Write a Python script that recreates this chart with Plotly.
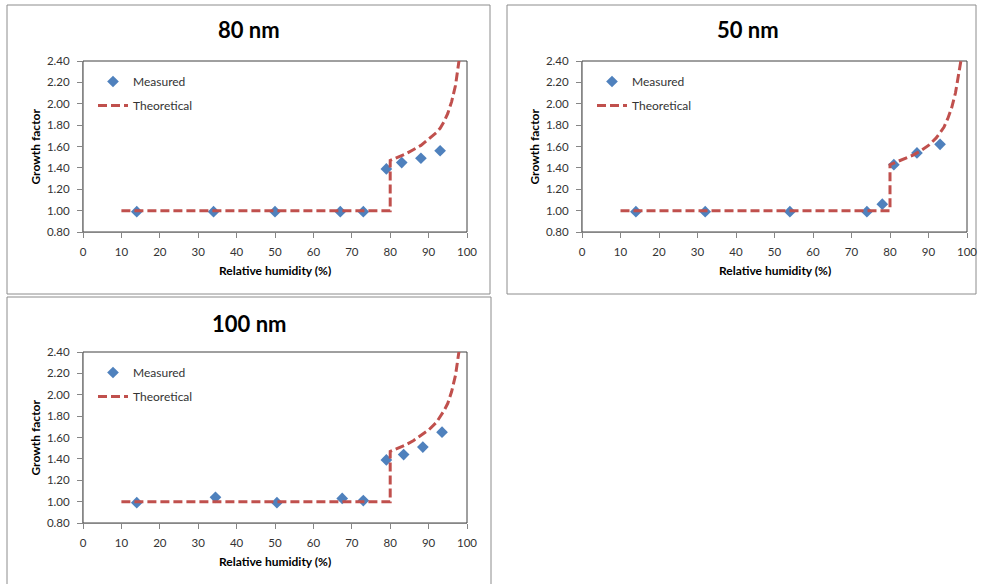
import plotly.graph_objects as go

W, H = 981, 584

# ---------------- data ----------------
titles = ["80 nm", "50 nm", "100 nm"]

meas_x_80 = [14, 34, 50, 67, 73, 79, 83, 88, 93]
meas_y_80 = [0.99, 0.99, 0.99, 0.99, 0.99, 1.39, 1.45, 1.49, 1.56]
theo_x_80 = [10, 80, 80, 82, 84, 86, 88, 90, 92, 93, 94, 95, 96, 97, 98, 98.5]
theo_y_80 = [1.00, 1.00, 1.47, 1.50, 1.53, 1.57, 1.61, 1.67, 1.73, 1.77, 1.83, 1.91, 2.02, 2.17, 2.39, 2.55]

meas_x_50 = [14, 32, 54, 74, 78, 81, 87, 93]
meas_y_50 = [0.99, 0.99, 0.99, 0.99, 1.06, 1.43, 1.54, 1.62]
theo_x_50 = [10, 80, 80, 82, 84, 86, 88, 90, 92, 93, 94, 95, 96, 97, 98, 98.5, 99]
theo_y_50 = [1.00, 1.00, 1.43, 1.46, 1.49, 1.52, 1.56, 1.61, 1.68, 1.73, 1.78, 1.86, 1.96, 2.10, 2.30, 2.42, 2.60]

meas_x_100 = [14, 34.5, 50.5, 67.5, 73, 79, 83.5, 88.5, 93.5]
meas_y_100 = [0.99, 1.04, 0.99, 1.03, 1.01, 1.39, 1.44, 1.51, 1.65]
theo_x_100 = [10, 80, 80, 82, 84, 86, 88, 90, 92, 93, 94, 95, 96, 97, 98, 98.5]
theo_y_100 = [1.00, 1.00, 1.47, 1.50, 1.53, 1.57, 1.62, 1.67, 1.74, 1.79, 1.85, 1.92, 2.03, 2.18, 2.39, 2.55]

x_range = [0, 100]
y_range = [0.8, 2.4]
x_title = "Relative humidity (%)"
y_title = "Growth factor"

panels = [
    (meas_x_80, meas_y_80, theo_x_80, theo_y_80),
    (meas_x_50, meas_y_50, theo_x_50, theo_y_50),
    (meas_x_100, meas_y_100, theo_x_100, theo_y_100),
]

# ---------------- layout (pixels) ----------------
areas = [(83, 61, 467, 232), (582, 61, 967, 232), (83, 352, 467, 523)]
boxes = [(7, 5, 490, 294), (507, 5, 976, 294), (7, 297, 491, 600)]
title_pos = [(249, 30), (748, 30), (249, 323)]

def px(x):
    return x / W

def py(y):
    return 1 - y / H

FONT = "Lato"
BLUE = "#4F81BD"
RED = "#C0504D"
TXT = "#333333"

fig = go.Figure()
layout = dict(
    template="none",
    width=W, height=H,
    margin=dict(l=0, r=0, t=0, b=0, pad=0, autoexpand=False),
    paper_bgcolor="white", plot_bgcolor="white",
    font=dict(family=FONT, size=11, color=TXT),
    showlegend=True,
)
shapes = []
annotations = []

for i, (mx, my, tx, ty) in enumerate(panels):
    n = "" if i == 0 else str(i + 1)
    xa, ya = "x" + n, "y" + n
    lg = "legend" + n
    fig.add_trace(go.Scatter(
        x=mx, y=my, mode="markers", name="Measured",
        marker=dict(symbol="diamond", size=9, color=BLUE, line=dict(width=0)),
        xaxis=xa, yaxis=ya, legend=lg, legendgroup="m" + n,
    ))
    fig.add_trace(go.Scatter(
        x=tx, y=ty, mode="lines", name="Theoretical",
        line=dict(color=RED, width=3, dash="9px,4px"),
        xaxis=xa, yaxis=ya, legend=lg, legendgroup="t" + n,
    ))
    l, t, r, b = areas[i]
    layout["xaxis" + n] = dict(
        domain=[px(l), px(r)], range=x_range, dtick=10, anchor=ya,
        showline=True, linecolor="#868686", linewidth=1,
        ticks="outside", ticklen=5, tickcolor="#868686",
        showgrid=False, zeroline=False, ticklabelstandoff=4, automargin=False,
        tickfont=dict(size=11.5, color=TXT),
    )
    layout["yaxis" + n] = dict(
        domain=[py(b), py(t)], range=y_range, dtick=0.2, tickformat=".2f",
        anchor=xa, showline=True, linecolor="#868686", linewidth=1,
        ticks="outside", ticklen=5, tickcolor="#868686",
        showgrid=False, zeroline=False, ticklabelstandoff=5, automargin=False,
        tickfont=dict(size=11.5, color=TXT),
    )
    layout[lg] = dict(
        x=px(l + 10), y=py(t + 6), xanchor="left", yanchor="top",
        bgcolor="rgba(0,0,0,0)", font=dict(size=12, color=TXT),
        tracegroupgap=5, traceorder="grouped",
    )
    shapes.append(dict(type="rect", xref="paper", yref="paper",
                       x0=px(l), x1=px(r), y0=py(b), y1=py(t),
                       line=dict(color="#404040", width=1), layer="below"))
    bx0, by0, bx1, by1 = boxes[i]
    shapes.append(dict(type="rect", xref="paper", yref="paper",
                       x0=px(bx0), x1=px(bx1), y0=py(by1), y1=py(by0),
                       line=dict(color="#8C8C8C", width=1), layer="below"))
    tx0, ty0 = title_pos[i]
    annotations.append(dict(text="<b>%s</b>" % titles[i], xref="paper", yref="paper",
                            x=px(tx0), y=py(ty0), xanchor="center", yanchor="middle",
                            showarrow=False, font=dict(size=22, color="black", family=FONT)))
    annotations.append(dict(text="<b>%s</b>" % x_title, xref="paper", yref="paper",
                            x=px((l + r) / 2), y=py(b + 38), xanchor="center", yanchor="middle",
                            showarrow=False, font=dict(size=12, color="black", family=FONT)))
    annotations.append(dict(text="<b>%s</b>" % y_title, xref="paper", yref="paper",
                            x=px(l - 48), y=py((t + b) / 2), xanchor="center", yanchor="middle",
                            textangle=-90, showarrow=False,
                            font=dict(size=12, color="black", family=FONT)))

layout["shapes"] = shapes
layout["annotations"] = annotations
fig.update_layout(**layout)
fig.write_html("out.html")
